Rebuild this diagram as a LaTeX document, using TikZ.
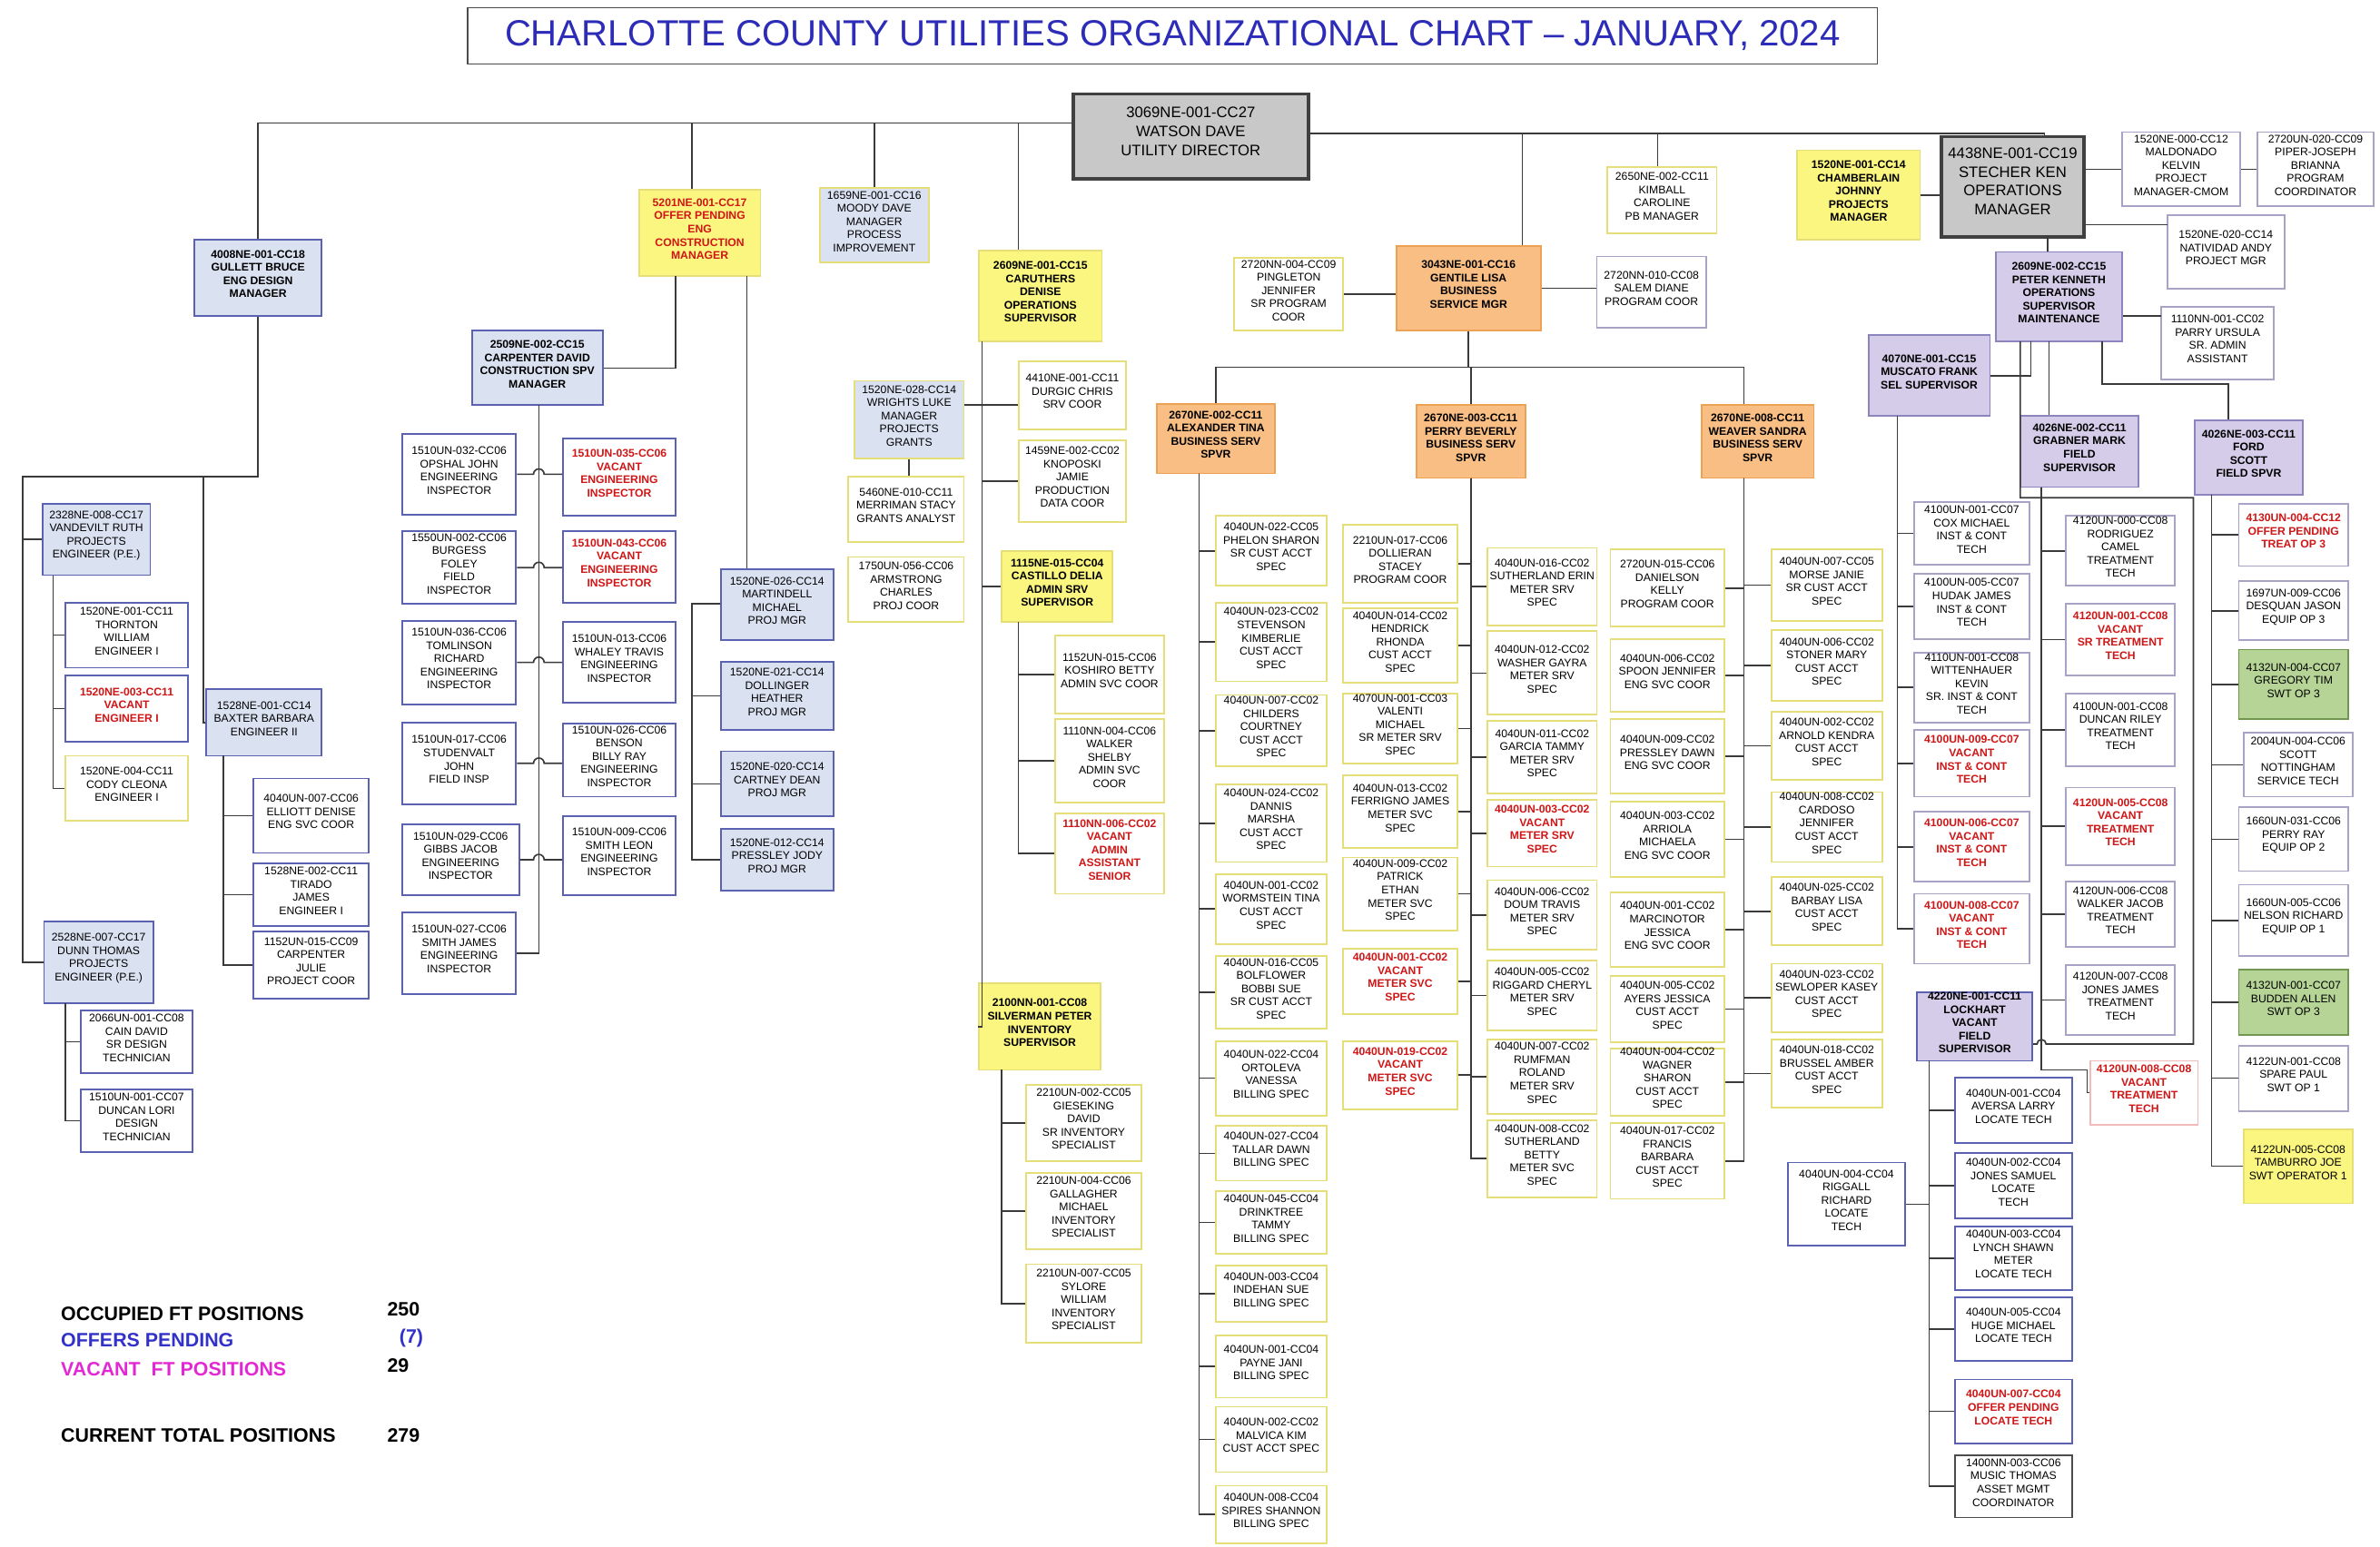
\documentclass[tikz,border=0pt]{standalone}
\usepackage{fontspec}
\usetikzlibrary{fit,calc}
\newfontfamily\chartfont{Liberation Sans}
\newcommand{\bxfont}{\chartfont\fontsize{7.3}{8.7}\selectfont}
\definecolor{boxblue}{RGB}{92,98,178}
\definecolor{fillblue}{RGB}{218,226,242}
\definecolor{boxyellow}{RGB}{230,222,120}
\definecolor{fillyellow}{RGB}{250,246,128}
\definecolor{boxorange}{RGB}{236,162,84}
\definecolor{fillorange}{RGB}{248,190,132}
\definecolor{boxlav}{RGB}{140,132,188}
\definecolor{filllav}{RGB}{212,204,232}
\definecolor{boxgray}{RGB}{168,162,198}
\definecolor{fillgray}{RGB}{200,200,200}
\definecolor{boxgreen}{RGB}{112,150,80}
\definecolor{fillgreen}{RGB}{182,212,150}
\definecolor{vacred}{RGB}{208,22,22}
\definecolor{titleblue}{RGB}{44,44,184}
\definecolor{pendblue}{RGB}{50,50,200}
\definecolor{vacpink}{RGB}{226,40,210}
\definecolor{linegray}{RGB}{58,58,58}

\tikzset{
	chartbox/.style={draw, line width=1.1pt, inner sep=0pt, align=center, fill=white, font=\bxfont},
	engb/.style={chartbox, draw=boxblue},
	engl/.style={chartbox, draw=boxblue, fill=fillblue},
	engm/.style={chartbox, draw=boxblue, fill=fillblue, font=\bxfont\bfseries},
	bizb/.style={chartbox, draw=boxyellow},
	bizm/.style={chartbox, draw=boxyellow, fill=fillyellow, font=\bxfont\bfseries},
	bizo/.style={chartbox, draw=boxorange, fill=fillorange, font=\bxfont\bfseries},
	opsb/.style={chartbox, draw=boxgray},
	opsm/.style={chartbox, draw=boxlav, fill=filllav, font=\bxfont\bfseries},
	opsg/.style={chartbox, draw=boxgreen, fill=fillgreen},
	topm/.style={chartbox, draw=black!75, line width=2.2pt, fill=fillgray, font=\chartfont\fontsize{10}{12.5}\selectfont},
	vac/.style={text=vacred, font=\bxfont\bfseries},
	wire/.style={draw=linegray, line width=1pt},
	legendtxt/.style={anchor=west, inner sep=0pt, font=\chartfont\bfseries\fontsize{12.8}{15}\selectfont}
}

\begin{document}
\begin{tikzpicture}[x=1pt, y=-1pt]

	\useasboundingbox (0,0) rectangle (1568,1019);

	\node[chartbox, draw=black!70, line width=0.8pt, fit={(308,5) (1237,42)}] (title) {};
	\node[text=titleblue, font=\chartfont\fontsize{24}{26}\selectfont] (titletxt) at (title.center) {CHARLOTTE COUNTY UTILITIES ORGANIZATIONAL CHART – JANUARY, 2024};

	\node[topm, fit={(707,62) (862,118)}] (dir) {3069NE-001-CC27\\WATSON DAVE\\UTILITY DIRECTOR};
	\node[topm, fit={(1279,90) (1373,156)}] (ste) {4438NE-001-CC19\\STECHER KEN\\OPERATIONS\\MANAGER};

	\node[engm, fit={(128,158) (212,208)}] (gul) {4008NE-001-CC18\\GULLETT BRUCE\\ENG DESIGN\\MANAGER};
	\node[engl, fit={(28,332) (99,379)}] (van) {2328NE-008-CC17\\VANDEVILT RUTH\\PROJECTS\\ENGINEER (P.E.)};
	\node[engb, fit={(43,397) (124,440)}] (tho) {1520NE-001-CC11\\THORNTON\\WILLIAM\\ENGINEER I};
	\node[engb, vac, fit={(43,445) (124,489)}] (vei) {1520NE-003-CC11\\VACANT\\ENGINEER I};
	\node[bizb, fit={(43,498) (124,541)}] (cod) {1520NE-004-CC11\\CODY CLEONA\\ENGINEER I};
	\node[engl, fit={(29,607) (101,661)}] (dun) {2528NE-007-CC17\\DUNN THOMAS\\PROJECTS\\ENGINEER (P.E.)};
	\node[engb, fit={(53,666) (127,707)}] (cai) {2066UN-001-CC08\\CAIN DAVID\\SR DESIGN\\TECHNICIAN};
	\node[engb, fit={(53,718) (127,759)}] (dlo) {1510UN-001-CC07\\DUNCAN LORI\\DESIGN\\TECHNICIAN};
	\node[engl, fit={(136,454) (212,498)}] (bax) {1528NE-001-CC14\\BAXTER BARBARA\\ENGINEER II};
	\node[engb, fit={(167,513) (243,562)}] (ell) {4040UN-007-CC06\\ELLIOTT DENISE\\ENG SVC COOR};
	\node[engb, fit={(167,569) (243,610)}] (tir) {1528NE-002-CC11\\TIRADO\\JAMES\\ENGINEER I};
	\node[engb, fit={(167,614) (243,658)}] (cju) {1152UN-015-CC09\\CARPENTER\\JULIE\\PROJECT COOR};

	\node[bizm, vac, fill=fillyellow, fit={(421,125) (501,182)}] (ofp) {5201NE-001-CC17\\OFFER PENDING\\ENG\\CONSTRUCTION\\MANAGER};
	\node[engm, fit={(311,218) (397,267)}] (car) {2509NE-002-CC15\\CARPENTER DAVID\\CONSTRUCTION SPV\\MANAGER};
	\node[engl, fit={(475,375) (549,422)}] (mar) {1520NE-026-CC14\\MARTINDELL\\MICHAEL\\PROJ MGR};
	\node[engl, fit={(475,436) (549,481)}] (dol) {1520NE-021-CC14\\DOLLINGER\\HEATHER\\PROJ MGR};
	\node[engl, fit={(475,495) (549,538)}] (cdn) {1520NE-020-CC14\\CARTNEY DEAN\\PROJ MGR};
	\node[engl, fit={(475,546) (549,587)}] (prs) {1520NE-012-CC14\\PRESSLEY JODY\\PROJ MGR};

	\node[engb, fit={(265,286) (340,339)}] (i1) {1510UN-032-CC06\\OPSHAL JOHN\\ENGINEERING\\INSPECTOR};
	\node[engb, fit={(265,350) (340,398)}] (i2) {1550UN-002-CC06\\BURGESS\\FOLEY\\FIELD\\INSPECTOR};
	\node[engb, fit={(265,409) (340,464)}] (i3) {1510UN-036-CC06\\TOMLINSON\\RICHARD\\ENGINEERING\\INSPECTOR};
	\node[engb, fit={(265,476) (340,530)}] (i4) {1510UN-017-CC06\\STUDENVALT\\JOHN\\FIELD INSP};
	\node[engb, fit={(265,543) (342,590)}] (i5) {1510UN-029-CC06\\GIBBS JACOB\\ENGINEERING\\INSPECTOR};
	\node[engb, fit={(265,601) (340,655)}] (i6) {1510UN-027-CC06\\SMITH JAMES\\ENGINEERING\\INSPECTOR};
	\node[engb, vac, fit={(371,289) (445,340)}] (j1) {1510UN-035-CC06\\VACANT\\ENGINEERING\\INSPECTOR};
	\node[engb, vac, fit={(371,350) (445,397)}] (j2) {1510UN-043-CC06\\VACANT\\ENGINEERING\\INSPECTOR};
	\node[engb, fit={(371,410) (445,463)}] (j3) {1510UN-013-CC06\\WHALEY TRAVIS\\ENGINEERING\\INSPECTOR};
	\node[engb, fit={(371,477) (445,525)}] (j4) {1510UN-026-CC06\\BENSON\\BILLY RAY\\ENGINEERING\\INSPECTOR};
	\node[engb, fit={(371,538) (445,590)}] (j5) {1510UN-009-CC06\\SMITH LEON\\ENGINEERING\\INSPECTOR};

	\node[engl, draw=boxyellow, fit={(540,124) (612,173)}] (moo) {1659NE-001-CC16\\MOODY DAVE\\MANAGER\\PROCESS\\IMPROVEMENT};

	\node[bizm, fit={(645,165) (726,225)}] (cru) {2609NE-001-CC15\\CARUTHERS\\DENISE\\OPERATIONS\\SUPERVISOR};
	\node[engl, draw=boxyellow, fit={(563,251) (635,302)}] (wri) {1520NE-028-CC14\\WRIGHTS LUKE\\MANAGER\\PROJECTS\\GRANTS};
	\node[bizb, fit={(671,238) (742,283)}] (dur) {4410NE-001-CC11\\DURGIC CHRIS\\SRV COOR};
	\node[bizb, fit={(559,314) (635,357)}] (mer) {5460NE-010-CC11\\MERRIMAN STACY\\GRANTS ANALYST};
	\node[bizb, fit={(559,367) (635,410)}] (arm) {1750UN-056-CC06\\ARMSTRONG\\CHARLES\\PROJ COOR};
	\node[bizb, fit={(671,290) (742,344)}] (kno) {1459NE-002-CC02\\KNOPOSKI\\JAMIE\\PRODUCTION\\DATA COOR};
	\node[bizm, fit={(660,363) (733,410)}] (cas) {1115NE-015-CC04\\CASTILLO DELIA\\ADMIN SRV\\SUPERVISOR};
	\node[bizb, fit={(695,419) (767,470)}] (kos) {1152UN-015-CC06\\KOSHIRO BETTY\\ADMIN SVC COOR};
	\node[bizb, fit={(695,474) (767,529)}] (wal) {1110NN-004-CC06\\WALKER\\SHELBY\\ADMIN SVC\\COOR};
	\node[bizb, vac, fit={(695,536) (767,589)}] (vaa) {1110NN-006-CC02\\VACANT\\ADMIN\\ASSISTANT\\SENIOR};
	\node[bizm, fit={(645,648) (725,705)}] (sil) {2100NN-001-CC08\\SILVERMAN PETER\\INVENTORY\\SUPERVISOR};
	\node[bizb, fit={(676,715) (752,765)}] (gie) {2210UN-002-CC05\\GIESEKING\\DAVID\\SR INVENTORY\\SPECIALIST};
	\node[bizb, fit={(676,773) (752,823)}] (gal) {2210UN-004-CC06\\GALLAGHER\\MICHAEL\\INVENTORY\\SPECIALIST};
	\node[bizb, fit={(676,833) (752,885)}] (syl) {2210UN-007-CC05\\SYLORE\\WILLIAM\\INVENTORY\\SPECIALIST};

	\node[bizo, fit={(920,162) (1015,218)}] (gen) {3043NE-001-CC16\\GENTILE LISA\\BUSINESS\\SERVICE MGR};
	\node[bizb, fit={(813,170) (885,218)}] (pin) {2720NN-004-CC09\\PINGLETON\\JENNIFER\\SR PROGRAM\\COOR};
	\node[opsb, fit={(1052,169) (1124,216)}] (sal) {2720NN-010-CC08\\SALEM DIANE\\PROGRAM COOR};
	\node[bizo, fit={(762,266) (840,312)}] (ale) {2670NE-002-CC11\\ALEXANDER TINA\\BUSINESS SERV\\SPVR};
	\node[bizo, fit={(933,267) (1005,315)}] (per) {2670NE-003-CC11\\PERRY BEVERLY\\BUSINESS SERV\\SPVR};
	\node[bizo, fit={(1121,267) (1195,315)}] (wea) {2670NE-008-CC11\\WEAVER SANDRA\\BUSINESS SERV\\SPVR};

	\node[bizb, fit={(801,340) (874,386)}] (a1) {4040UN-022-CC05\\PHELON SHARON\\SR CUST ACCT\\SPEC};
	\node[bizb, fit={(801,397) (874,449)}] (a2) {4040UN-023-CC02\\STEVENSON\\KIMBERLIE\\CUST ACCT\\SPEC};
	\node[bizb, fit={(801,458) (874,505)}] (a3) {4040UN-007-CC02\\CHILDERS\\COURTNEY\\CUST ACCT\\SPEC};
	\node[bizb, fit={(801,517) (874,568)}] (a4) {4040UN-024-CC02\\DANNIS\\MARSHA\\CUST ACCT\\SPEC};
	\node[bizb, fit={(801,576) (874,622)}] (a5) {4040UN-001-CC02\\WORMSTEIN TINA\\CUST ACCT\\SPEC};
	\node[bizb, fit={(801,630) (874,678)}] (a6) {4040UN-016-CC05\\BOLFLOWER\\BOBBI SUE\\SR CUST ACCT\\SPEC};
	\node[bizb, fit={(801,686) (874,735)}] (a7) {4040UN-022-CC04\\ORTOLEVA\\VANESSA\\BILLING SPEC};
	\node[bizb, fit={(801,742) (874,778)}] (a8) {4040UN-027-CC04\\TALLAR DAWN\\BILLING SPEC};
	\node[bizb, fit={(801,785) (874,826)}] (a9) {4040UN-045-CC04\\DRINKTREE\\TAMMY\\BILLING SPEC};
	\node[bizb, fit={(801,834) (874,871)}] (a10) {4040UN-003-CC04\\INDEHAN SUE\\BILLING SPEC};
	\node[bizb, fit={(801,880) (874,921)}] (a11) {4040UN-001-CC04\\PAYNE JANI\\BILLING SPEC};
	\node[bizb, fit={(801,927) (874,970)}] (a12) {4040UN-002-CC02\\MALVICA KIM\\CUST ACCT SPEC};
	\node[bizb, fit={(801,979) (874,1017)}] (a13) {4040UN-008-CC04\\SPIRES SHANNON\\BILLING SPEC};

	\node[bizb, fit={(885,346) (960,397)}] (p1) {2210UN-017-CC06\\DOLLIERAN\\STACEY\\PROGRAM COOR};
	\node[bizb, fit={(885,401) (960,450)}] (p2) {4040UN-014-CC02\\HENDRICK\\RHONDA\\CUST ACCT\\SPEC};
	\node[bizb, fit={(885,457) (960,503)}] (p3) {4070UN-001-CC03\\VALENTI\\MICHAEL\\SR METER SRV\\SPEC};
	\node[bizb, fit={(885,511) (960,559)}] (p4) {4040UN-013-CC02\\FERRIGNO JAMES\\METER SVC\\SPEC};
	\node[bizb, fit={(885,565) (960,613)}] (p5) {4040UN-009-CC02\\PATRICK\\ETHAN\\METER SVC\\SPEC};
	\node[bizb, vac, fit={(885,625) (960,668)}] (p6) {4040UN-001-CC02\\VACANT\\METER SVC\\SPEC};
	\node[bizb, vac, fit={(885,686) (960,731)}] (p7) {4040UN-019-CC02\\VACANT\\METER SVC\\SPEC};
	\node[bizb, fit={(980,361) (1052,412)}] (q1) {4040UN-016-CC02\\SUTHERLAND ERIN\\METER SRV\\SPEC};
	\node[bizb, fit={(980,416) (1052,471)}] (q2) {4040UN-012-CC02\\WASHER GAYRA\\METER SRV\\SPEC};
	\node[bizb, fit={(980,475) (1052,523)}] (q3) {4040UN-011-CC02\\GARCIA TAMMY\\METER SRV\\SPEC};
	\node[bizb, vac, fit={(980,527) (1052,571)}] (q4) {4040UN-003-CC02\\VACANT\\METER SRV\\SPEC};
	\node[bizb, fit={(980,580) (1052,626)}] (q5) {4040UN-006-CC02\\DOUM TRAVIS\\METER SRV\\SPEC};
	\node[bizb, fit={(980,633) (1052,679)}] (q6) {4040UN-005-CC02\\RIGGARD CHERYL\\METER SRV\\SPEC};
	\node[bizb, fit={(980,685) (1052,734)}] (q7) {4040UN-007-CC02\\RUMFMAN\\ROLAND\\METER SRV\\SPEC};
	\node[bizb, fit={(980,738) (1052,789)}] (q8) {4040UN-008-CC02\\SUTHERLAND\\BETTY\\METER SVC\\SPEC};

	\node[bizb, fit={(1061,362) (1136,413)}] (w1) {2720UN-015-CC06\\DANIELSON\\KELLY\\PROGRAM COOR};
	\node[bizb, fit={(1061,421) (1136,469)}] (w2) {4040UN-006-CC02\\SPOON JENNIFER\\ENG SVC COOR};
	\node[bizb, fit={(1061,474) (1136,523)}] (w3) {4040UN-009-CC02\\PRESSLEY DAWN\\ENG SVC COOR};
	\node[bizb, fit={(1061,528) (1136,578)}] (w4) {4040UN-003-CC02\\ARRIOLA\\MICHAELA\\ENG SVC COOR};
	\node[bizb, fit={(1061,588) (1136,637)}] (w5) {4040UN-001-CC02\\MARCINOTOR\\JESSICA\\ENG SVC COOR};
	\node[bizb, fit={(1061,643) (1136,687)}] (w6) {4040UN-005-CC02\\AYERS JESSICA\\CUST ACCT\\SPEC};
	\node[bizb, fit={(1061,691) (1136,735)}] (w7) {4040UN-004-CC02\\WAGNER\\SHARON\\CUST ACCT\\SPEC};
	\node[bizb, fit={(1061,740) (1136,790)}] (w8) {4040UN-017-CC02\\FRANCIS\\BARBARA\\CUST ACCT\\SPEC};
	\node[bizb, fit={(1167,362) (1240,409)}] (v1) {4040UN-007-CC05\\MORSE JANIE\\SR CUST ACCT\\SPEC};
	\node[bizb, fit={(1167,415) (1240,462)}] (v2) {4040UN-006-CC02\\STONER MARY\\CUST ACCT\\SPEC};
	\node[bizb, fit={(1167,469) (1240,514)}] (v3) {4040UN-002-CC02\\ARNOLD KENDRA\\CUST ACCT\\SPEC};
	\node[bizb, fit={(1167,522) (1240,568)}] (v4) {4040UN-008-CC02\\CARDOSO\\JENNIFER\\CUST ACCT\\SPEC};
	\node[bizb, fit={(1167,578) (1240,623)}] (v5) {4040UN-025-CC02\\BARBAY LISA\\CUST ACCT\\SPEC};
	\node[bizb, fit={(1167,635) (1240,680)}] (v6) {4040UN-023-CC02\\SEWLOPER KASEY\\CUST ACCT\\SPEC};
	\node[bizb, fit={(1167,685) (1240,730)}] (v7) {4040UN-018-CC02\\BRUSSEL AMBER\\CUST ACCT\\SPEC};

	\node[bizb, fit={(1059,110) (1131,154)}] (kim) {2650NE-002-CC11\\KIMBALL\\CAROLINE\\PB MANAGER};
	\node[bizm, fit={(1184,99) (1265,158)}] (cha) {1520NE-001-CC14\\CHAMBERLAIN\\JOHNNY\\PROJECTS\\MANAGER};
	\node[opsb, fit={(1398,87) (1476,136)}] (mal) {1520NE-000-CC12\\MALDONADO\\KELVIN\\PROJECT\\MANAGER-CMOM};
	\node[opsb, fit={(1487,87) (1564,136)}] (pip) {2720UN-020-CC09\\PIPER-JOSEPH\\BRIANNA\\PROGRAM\\COORDINATOR};
	\node[opsb, fit={(1428,142) (1505,190)}] (nat) {1520NE-020-CC14\\NATIVIDAD ANDY\\PROJECT MGR};
	\node[opsm, fit={(1315,166) (1398,225)}] (pet) {2609NE-002-CC15\\PETER KENNETH\\OPERATIONS\\SUPERVISOR\\MAINTENANCE};
	\node[opsb, fit={(1424,202) (1498,250)}] (par) {1110NN-001-CC02\\PARRY URSULA\\SR. ADMIN\\ASSISTANT};
	\node[opsm, fit={(1231,221) (1311,274)}] (mus) {4070NE-001-CC15\\MUSCATO FRANK\\SEL SUPERVISOR};
	\node[opsm, fit={(1331,274) (1409,321)}] (gra) {4026NE-002-CC11\\GRABNER MARK\\FIELD\\SUPERVISOR};
	\node[opsm, fit={(1446,277) (1517,326)}] (for) {4026NE-003-CC11\\FORD\\SCOTT\\FIELD SPVR};

	\node[opsb, fit={(1261,331) (1337,372)}] (m1) {4100UN-001-CC07\\COX MICHAEL\\INST \& CONT\\TECH};
	\node[opsb, fit={(1261,378) (1337,421)}] (m2) {4100UN-005-CC07\\HUDAK JAMES\\INST \& CONT\\TECH};
	\node[opsb, fit={(1261,430) (1337,476)}] (m3) {4110UN-001-CC08\\WITTENHAUER\\KEVIN\\SR. INST \& CONT\\TECH};
	\node[opsb, vac, fit={(1261,481) (1337,525)}] (m4) {4100UN-009-CC07\\VACANT\\INST \& CONT\\TECH};
	\node[opsb, vac, fit={(1261,535) (1337,581)}] (m5) {4100UN-006-CC07\\VACANT\\INST \& CONT\\TECH};
	\node[opsb, vac, fit={(1261,589) (1337,635)}] (m6) {4100UN-008-CC07\\VACANT\\INST \& CONT\\TECH};

	\node[opsb, fit={(1361,340) (1433,386)}] (g1) {4120UN-000-CC08\\RODRIGUEZ\\CAMEL\\TREATMENT\\TECH};
	\node[opsb, vac, fit={(1361,398) (1433,445)}] (g2) {4120UN-001-CC08\\VACANT\\SR TREATMENT\\TECH};
	\node[opsb, fit={(1361,457) (1433,505)}] (g3) {4100UN-001-CC08\\DUNCAN RILEY\\TREATMENT\\TECH};
	\node[opsb, vac, fit={(1361,519) (1433,570)}] (g4) {4120UN-005-CC08\\VACANT\\TREATMENT\\TECH};
	\node[opsb, fit={(1361,581) (1433,624)}] (g5) {4120UN-006-CC08\\WALKER JACOB\\TREATMENT\\TECH};
	\node[opsb, fit={(1361,636) (1433,682)}] (g6) {4120UN-007-CC08\\JONES JAMES\\TREATMENT\\TECH};
	\node[opsb, vac, draw=vacred!30, fit={(1377,699) (1448,741)}] (g7) {4120UN-008-CC08\\VACANT\\TREATMENT\\TECH};

	\node[opsb, vac, fit={(1475,332) (1547,373)}] (f1) {4130UN-004-CC12\\OFFER PENDING\\TREAT OP 3};
	\node[opsb, fit={(1475,383) (1547,422)}] (f2) {1697UN-009-CC06\\DESQUAN JASON\\EQUIP OP 3};
	\node[opsg, fit={(1475,428) (1547,474)}] (f3) {4132UN-004-CC07\\GREGORY TIM\\SWT OP 3};
	\node[opsb, fit={(1478,483) (1550,525)}] (f4) {2004UN-004-CC06\\SCOTT\\NOTTINGHAM\\SERVICE TECH};
	\node[opsb, fit={(1475,532) (1547,574)}] (f5) {1660UN-031-CC06\\PERRY RAY\\EQUIP OP 2};
	\node[opsb, fit={(1475,583) (1547,630)}] (f6) {1660UN-005-CC06\\NELSON RICHARD\\EQUIP OP 1};
	\node[opsg, fit={(1475,639) (1547,682)}] (f7) {4132UN-001-CC07\\BUDDEN ALLEN\\SWT OP 3};
	\node[opsb, fit={(1475,689) (1547,732)}] (f8) {4122UN-001-CC08\\SPARE PAUL\\SWT OP 1};
	\node[bizm, font=\bxfont, fit={(1478,744) (1550,793)}] (f9) {4122UN-005-CC08\\TAMBURRO JOE\\SWT OPERATOR 1};

	\node[opsm, draw=boxblue, fit={(1263,654) (1339,699)}] (fsv) {4220NE-001-CC11\\LOCKHART\\VACANT\\FIELD\\SUPERVISOR};
	\node[engb, fit={(1288,710) (1365,753)}] (l1) {4040UN-001-CC04\\AVERSA LARRY\\LOCATE TECH};
	\node[engb, fit={(1288,760) (1365,803)}] (l2) {4040UN-002-CC04\\JONES SAMUEL\\LOCATE\\TECH};
	\node[engb, fit={(1288,808) (1365,850)}] (l3) {4040UN-003-CC04\\LYNCH SHAWN\\METER\\LOCATE TECH};
	\node[engb, fit={(1288,855) (1365,897)}] (l4) {4040UN-005-CC04\\HUGE MICHAEL\\LOCATE TECH};
	\node[engb, vac, fit={(1288,909) (1365,951)}] (l5) {4040UN-007-CC04\\OFFER PENDING\\LOCATE TECH};
	\node[engb, draw=black!70, fit={(1288,959) (1365,1000)}] (l6) {1400NN-003-CC06\\MUSIC THOMAS\\ASSET MGMT\\COORDINATOR};
	\node[engb, fit={(1178,766) (1255,821)}] (rig) {4040UN-004-CC04\\RIGGALL\\RICHARD\\LOCATE\\TECH};

	\coordinate (tl) at (170,81);
	\coordinate (ot) at (456,81);
	\coordinate (ct) at (671,81);
	\coordinate (gt) at (1003,88);
	\coordinate (kt) at (1092,88);
	\coordinate (tr) at (1347,88);

	\draw[wire] (tl) -- (tl -| dir.west);
	\draw[wire] (dir.east |- tr) -- (tr) -- (tr |- ste.north);
	\draw[wire] (tl) -- (tl |- gul.north);
	\draw[wire] (ot) -- (ot |- ofp.north);
	\draw[wire] (moo.north) -- (moo.north |- tl);
	\draw[wire] (ct) -- (ct |- cru.north);
	\draw[wire] (gt) -- (gt |- gen.north);
	\draw[wire] (kt) -- (kt |- kim.north);

	\coordinate (gj) at (170,314);
	\coordinate (gl) at (15,314);
	\coordinate (gr) at (134,314);
	\draw[wire] (gul.south) -- (gj) -- (gl) |- (dun.west);
	\draw[wire] (gl) |- (van.west);
	\draw[wire] (gr) |- (bax.west);

	\coordinate (vs) at (35,379);
	\foreach \n in {tho,vei,cod}
		\draw[wire] (vs) |- (\n.west);
	\coordinate (ds) at (43,661);
	\foreach \n in {cai,dlo}
		\draw[wire] (ds) |- (\n.west);
	\coordinate (bs) at (147,498);
	\foreach \n in {ell,tir,cju}
		\draw[wire] (bs) |- (\n.west);

	\coordinate (oc) at (445,182);
	\coordinate (om) at (492,182);
	\coordinate (mbr) at (456,398);
	\coordinate (csp) at (355,267);
	\draw[wire] (oc) |- (car.east);
	\draw[wire] (om) -- (om |- mar.north);
	\draw[wire] (mar.west |- mbr) -- (mbr) |- (prs.west);
	\foreach \n in {dol,cdn}
		\draw[wire] (mbr) |- (\n.west);
	\draw[wire] (csp) |- (i6.east);
	\foreach \k in {1,...,5}
		\draw[wire] (i\k.east) -- ($(i\k.east -| csp)+(-3.5,0)$) arc[start angle=180, end angle=0, radius=3.5pt] -- (i\k.east -| j\k.west);

	\coordinate (cs) at (647,225);
	\coordinate (c1) at (647,267);
	\draw[wire] (cs) |- (sil.west);
	\draw[wire] (c1 -| wri.east) -- (c1 -| dur.west);
	\draw[wire] (wri.south) -- (wri.south |- mer.north);
	\foreach \n in {kno,cas}
		\draw[wire] (cs) |- (\n.west);
	\coordinate (cas1) at (671,410);
	\foreach \n in {kos,wal,vaa}
		\draw[wire] (cas1) |- (\n.west);
	\coordinate (sil1) at (660,705);
	\foreach \n in {gie,gal,syl}
		\draw[wire] (sil1) |- (\n.west);

	\draw[wire] (pin.east) -- (pin.east -| gen.west);
	\draw[wire] (gen.east) -- (gen.east -| sal.west);
	\coordinate (bl) at (801,242);
	\coordinate (br) at (1149,242);
	\draw[wire] (gen.south) -- (gen.south |- bl);
	\draw[wire] (bl |- ale.north) -- (bl) -- (br) -- (br |- wea.north);
	\draw[wire] (per.north) -- (per.north |- bl);

	\coordinate (as) at (790,312);
	\coordinate (ps) at (969,315);
	\coordinate (ws) at (1149,315);
	\foreach \k in {1,...,13}
		\draw[wire] (as) |- (a\k.west);
	\foreach \k in {1,...,7}
		\draw[wire] (ps) |- (p\k.east);
	\foreach \k in {1,...,8}
		\draw[wire] (ps) |- (q\k.west);
	\foreach \k in {1,...,8}
		\draw[wire] (ws) |- (w\k.east);
	\foreach \k in {1,...,7}
		\draw[wire] (ws) |- (v\k.west);

	\draw[wire] (cha.east) -- (cha.east -| ste.west);
	\draw[wire] (ste.east |- mal.west) -- (mal.west);
	\draw[wire] (mal.east) -- (mal.east -| pip.west);
	\coordinate (nt) at (1428,148);
	\draw[wire] (nt -| ste.east) -- (nt);
	\coordinate (sp) at (1349,156);
	\draw[wire] (sp) -- (sp |- pet.north);
	\coordinate (pa) at (1424,208);
	\draw[wire] (pa -| pet.east) -- (pa);

	\coordinate (pm) at (1338,225);
	\coordinate (pg) at (1350,225);
	\coordinate (pf) at (1385,225);
	\coordinate (pfb) at (1468,253);
	\coordinate (pl) at (1331,225);
	\draw[wire] (pm) |- (mus.east);
	\draw[wire] (pg) -- (pg |- gra.north);
	\draw[wire] (pf) |- (pfb) -- (pfb |- for.north);
	\coordinate (lp1) at (1331,328);
	\coordinate (lp2) at (1445,328);
	\coordinate (lp3) at (1445,688);
	\coordinate (gs) at (1345,321);
	\draw[wire] (pl) -- (lp1) -- (lp2) -- (lp3) -- ($(lp3 -| gs)+(3,0)$) arc[start angle=0, end angle=180, radius=3pt] -- (lp3 -| fsv.east);

	\coordinate (mus0) at (1250,274);
	\foreach \k in {1,...,6}
		\draw[wire] (mus0) |- (m\k.west);
	\foreach \k in {1,...,6}
		\draw[wire] (gs) |- (g\k.west);
	\coordinate (g7c) at (1375,705);
	\draw[wire] (gs) |- (g7c) |- (g7.west);
	\coordinate (fs) at (1457,326);
	\foreach \k in {1,...,9}
		\draw[wire] (fs) |- (f\k.west);
	\coordinate (fvs) at (1271,699);
	\foreach \k in {1,...,6}
		\draw[wire] (fvs) |- (l\k.west);
	\draw[wire] (rig.east) -- (rig.east -| fvs);

	\node[legendtxt] (occ) at (40,866) {OCCUPIED FT POSITIONS};
	\node[legendtxt] (occn) at (255,863) {250};
	\node[legendtxt, text=pendblue] (pen) at (40,883) {OFFERS PENDING};
	\node[legendtxt, text=pendblue] (penn) at (263,882) {(7)};
	\node[legendtxt, text=vacpink] (vacl) at (40,902) {VACANT\ \ FT POSITIONS};
	\node[legendtxt] (vacn) at (255,900) {29};
	\node[legendtxt] (tot) at (40,946) {CURRENT TOTAL POSITIONS};
	\node[legendtxt] (totn) at (255,946) {279};

\end{tikzpicture}
\end{document}
